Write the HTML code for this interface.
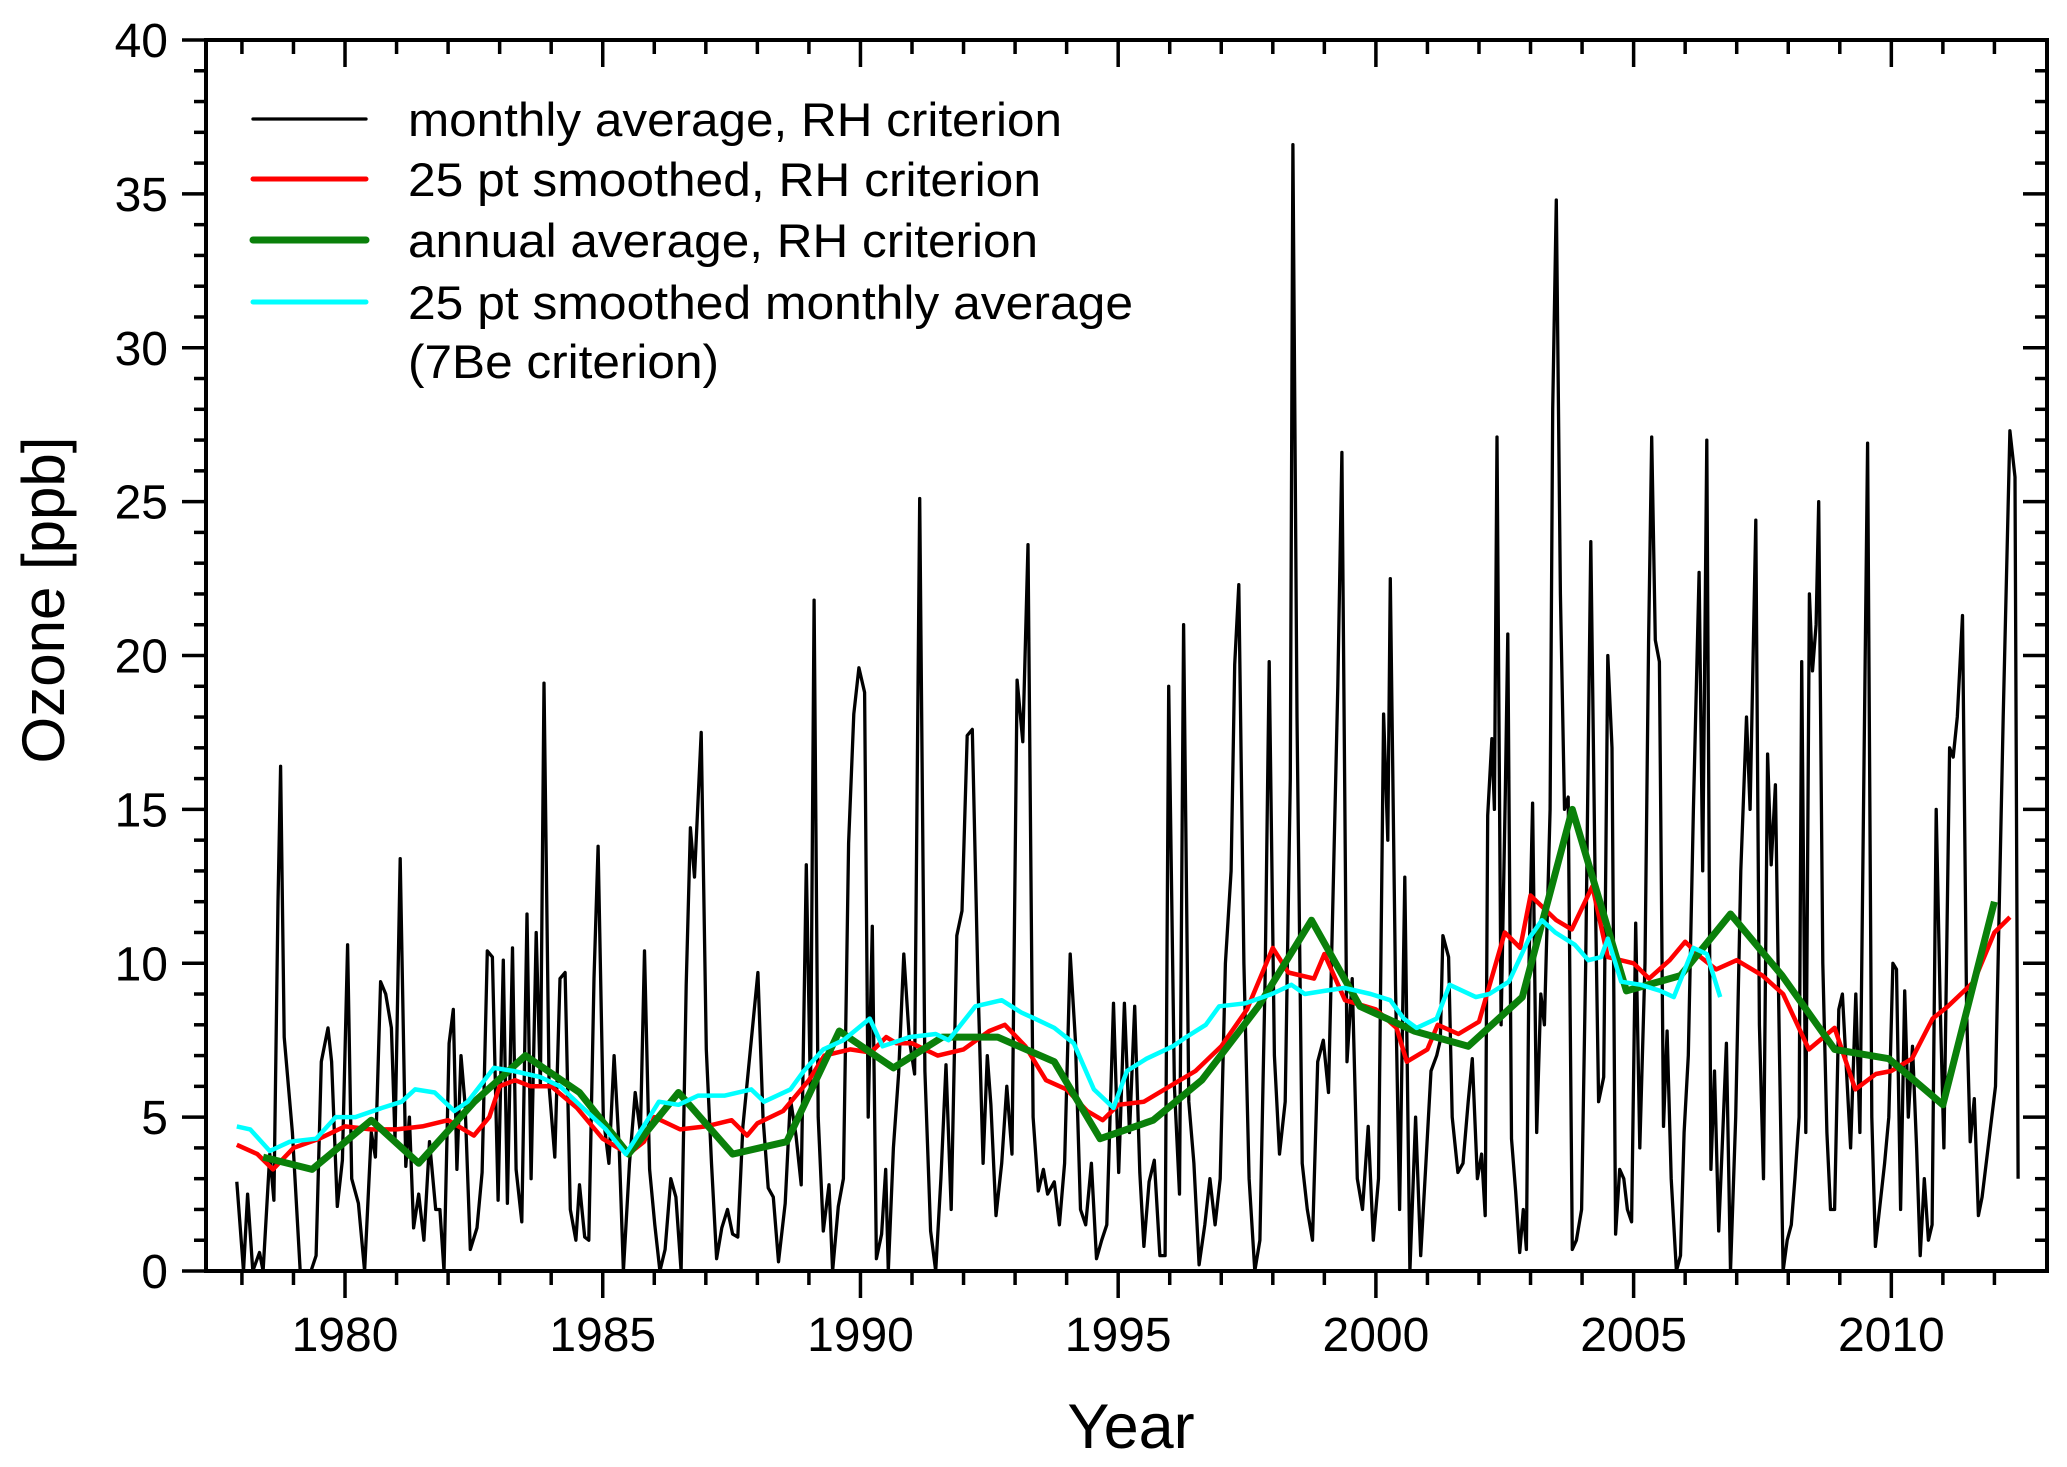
<!DOCTYPE html>
<html><head><meta charset="utf-8"><title>Ozone time series</title>
<style>html,body{margin:0;padding:0;background:#fff}svg{display:block;font-family:"Liberation Sans",Arial,sans-serif}</style>
</head><body>
<svg id="chart" xmlns="http://www.w3.org/2000/svg" width="2067" height="1467" viewBox="0 0 2067 1467">
<rect x="0" y="0" width="2067" height="1467" fill="#fff"/>
<g id="series"></g>
<g id="axes"></g>
<g id="legend"></g>
<text x="1131" y="1448" font-size="63" text-anchor="middle">Year</text>
<text transform="translate(64,600) rotate(-90)" font-size="60" text-anchor="middle">Ozone [ppb]</text>
</svg>
<script>
const xTickLabels = [1980,1985,1990,1995,2000,2005,2010];
const yTickLabels = [0,5,10,15,20,25,30,35,40];

const monthlyYears = [1977.90,1978.03,1978.11,1978.21,1978.34,1978.41,1978.54,1978.62,1978.70,1978.75,1978.82,1978.98,1979.13,1979.34,1979.44,1979.54,1979.67,1979.74,1979.85,1979.95,1980.05,1980.13,1980.26,1980.38,1980.51,1980.59,1980.69,1980.79,1980.90,1980.97,1981.07,1981.18,1981.25,1981.33,1981.43,1981.53,1981.64,1981.76,1981.84,1981.92,1982.02,1982.10,1982.17,1982.25,1982.33,1982.43,1982.56,1982.66,1982.76,1982.86,1982.97,1983.07,1983.15,1983.25,1983.32,1983.43,1983.53,1983.61,1983.71,1983.79,1983.86,1983.96,1984.07,1984.17,1984.27,1984.37,1984.48,1984.55,1984.65,1984.73,1984.83,1984.91,1985.01,1985.12,1985.22,1985.32,1985.40,1985.52,1985.63,1985.73,1985.81,1985.91,1986.01,1986.11,1986.21,1986.32,1986.42,1986.52,1986.62,1986.70,1986.78,1986.91,1987.01,1987.11,1987.21,1987.31,1987.42,1987.52,1987.62,1987.72,1987.83,1988.01,1988.11,1988.21,1988.31,1988.41,1988.54,1988.64,1988.75,1988.85,1988.95,1989.03,1989.10,1989.18,1989.28,1989.39,1989.46,1989.57,1989.67,1989.77,1989.87,1989.97,1990.08,1990.15,1990.23,1990.31,1990.41,1990.49,1990.54,1990.64,1990.74,1990.84,1990.95,1991.05,1991.15,1991.25,1991.36,1991.46,1991.56,1991.66,1991.76,1991.87,1991.97,1992.07,1992.17,1992.28,1992.38,1992.46,1992.53,1992.63,1992.74,1992.84,1992.94,1993.04,1993.15,1993.25,1993.35,1993.45,1993.55,1993.63,1993.76,1993.86,1993.96,1994.07,1994.17,1994.27,1994.37,1994.48,1994.58,1994.68,1994.78,1994.91,1995.01,1995.12,1995.22,1995.32,1995.42,1995.50,1995.60,1995.70,1995.81,1995.91,1995.98,1996.09,1996.19,1996.27,1996.37,1996.47,1996.57,1996.68,1996.78,1996.88,1996.98,1997.08,1997.19,1997.26,1997.34,1997.44,1997.54,1997.65,1997.75,1997.85,1997.93,1998.03,1998.13,1998.24,1998.34,1998.39,1998.47,1998.57,1998.67,1998.77,1998.87,1998.98,1999.08,1999.18,1999.26,1999.34,1999.44,1999.54,1999.64,1999.74,1999.85,1999.95,2000.05,2000.15,2000.23,2000.28,2000.38,2000.46,2000.56,2000.66,2000.77,2000.87,2000.97,2001.07,2001.18,2001.25,2001.30,2001.41,2001.48,2001.59,2001.69,2001.79,2001.87,2001.97,2002.05,2002.12,2002.17,2002.25,2002.30,2002.35,2002.43,2002.51,2002.56,2002.63,2002.71,2002.79,2002.86,2002.92,2002.97,2003.04,2003.12,2003.20,2003.27,2003.38,2003.43,2003.50,2003.58,2003.66,2003.73,2003.81,2003.89,2003.99,2004.07,2004.17,2004.25,2004.32,2004.42,2004.50,2004.58,2004.65,2004.73,2004.81,2004.88,2004.96,2005.04,2005.12,2005.22,2005.29,2005.35,2005.42,2005.50,2005.58,2005.65,2005.73,2005.83,2005.91,2005.98,2006.06,2006.16,2006.27,2006.34,2006.42,2006.50,2006.57,2006.65,2006.73,2006.80,2006.88,2006.98,2007.08,2007.19,2007.26,2007.37,2007.44,2007.52,2007.60,2007.67,2007.75,2007.83,2007.90,2007.98,2008.06,2008.13,2008.21,2008.26,2008.34,2008.41,2008.47,2008.54,2008.59,2008.67,2008.75,2008.82,2008.90,2008.98,2009.05,2009.13,2009.21,2009.31,2009.39,2009.46,2009.54,2009.62,2009.69,2009.77,2009.87,2009.95,2010.03,2010.10,2010.18,2010.26,2010.33,2010.41,2010.49,2010.56,2010.64,2010.72,2010.79,2010.87,2010.95,2011.02,2011.13,2011.20,2011.28,2011.38,2011.46,2011.53,2011.61,2011.69,2011.76,2012.02,2012.17,2012.30,2012.40,2012.46];
const monthlyValues = [2.9,0,2.5,0,0.6,0,3.8,2.3,12,16.4,7.6,4.5,0,0,0.5,6.8,7.9,6.8,2.1,3.6,10.6,3,2.2,0,4.5,3.7,9.4,9,7.9,4.3,13.4,3.4,5,1.4,2.5,1,4.2,2,2,0,7.4,8.5,3.3,7,5.4,0.7,1.4,3.2,10.4,10.2,2.3,10.1,2.2,10.5,3.3,1.6,11.6,3,11,6,19.1,6,3.7,9.5,9.7,2,1,2.8,1.1,1,9.5,13.8,5,3.5,7,4,0,3.5,5.8,4.5,10.4,3.3,1.5,0,0.7,3,2.4,0,9.3,14.4,12.8,17.5,7.2,3.5,0.4,1.4,2,1.2,1.1,4.7,6.6,9.7,5,2.7,2.4,0.3,2.2,5.6,4.4,2.8,13.2,5.7,21.8,5,1.3,2.8,0,2.1,3,13.9,18.1,19.6,18.8,5,11.2,0.4,1.2,3.3,0,4,6.4,10.3,7.5,6.4,25.1,6.5,1.3,0,3,6.7,2,10.9,11.7,17.4,17.6,9.3,3.5,7,5.4,1.8,3.5,6,3.8,19.2,17.2,23.6,5,2.6,3.3,2.5,2.9,1.5,3.5,10.3,7.5,2,1.5,3.5,0.4,1,1.5,8.7,3.2,8.7,4.5,8.6,3.2,0.8,2.9,3.6,0.5,0.5,19,6,2.5,21,5.5,3.5,0.2,1.5,3,1.5,3,10,13,19.7,22.3,10,3,0,1,9.5,19.8,7,3.8,5.5,16,36.6,18,3.5,2,1,6.8,7.5,5.8,13,19,26.6,6.8,9.5,3,2,4.7,1,3,18.1,14,22.5,9.3,2,12.8,0,5,0.5,3.5,6.5,7,7.5,10.9,10.2,5,3.2,3.5,5.5,6.9,3,3.8,1.8,14.8,17.3,15,27.1,8,15.5,20.7,4.3,2.6,0.6,2,0.7,10,15.2,4.5,9,8,15,28,34.8,22,15,15.4,0.7,1,2,10,23.7,13,5.5,6.3,20,17,1.2,3.3,3,2,1.6,11.3,4,10,20.5,27.1,20.5,19.8,4.7,7.8,3,0,0.5,4.5,7,15,22.7,13,27,3.3,6.5,1.3,4.5,7.4,0,5,13,18,15,24.4,8,3,16.8,13.2,15.8,7,0,1,1.5,3,5,19.8,4.5,22,19.5,21,25,10,4.5,2,2,8.5,9,6.5,4,9,4.5,15,26.9,5,0.8,2,3.5,5,10,9.8,2,9.1,5,7.3,4,0.5,3,1,1.5,15,8.5,4,17,16.7,18,21.3,8.5,4.2,5.6,1.8,2.4,6,18,27.3,25.8,3];

const smoothYears = [1977.90,1978.3,1978.6,1979.0,1979.5,1980.0,1980.5,1981.0,1981.5,1982.0,1982.5,1982.8,1983.0,1983.3,1983.6,1984.0,1984.5,1985.0,1985.5,1985.8,1986.0,1986.5,1987.0,1987.5,1987.8,1988.0,1988.5,1989.0,1989.3,1989.8,1990.2,1990.5,1990.7,1991.0,1991.5,1992.0,1992.5,1992.8,1993.2,1993.6,1994.0,1994.4,1994.7,1995.0,1995.5,1996.0,1996.5,1997.0,1997.5,1998.0,1998.3,1998.8,1999.0,1999.4,2000.0,2000.4,2000.6,2001.0,2001.2,2001.6,2002.0,2002.5,2002.8,2003.0,2003.5,2003.8,2004.2,2004.5,2005.0,2005.3,2005.7,2006.0,2006.3,2006.6,2007.0,2007.5,2007.9,2008.4,2008.9,2009.3,2009.7,2010.0,2010.4,2010.8,2011.1,2011.6,2012.0,2012.3];
const smoothValues = [4.1,3.8,3.3,4.0,4.3,4.7,4.6,4.6,4.7,4.9,4.4,5.0,6.0,6.2,6.0,6.0,5.3,4.3,3.8,4.2,5.0,4.6,4.7,4.9,4.4,4.8,5.2,6.2,7.0,7.2,7.1,7.6,7.4,7.4,7.0,7.2,7.8,8.0,7.3,6.2,5.9,5.2,4.9,5.4,5.5,6.0,6.5,7.3,8.5,10.5,9.7,9.5,10.3,8.8,8.5,7.9,6.8,7.2,8.0,7.7,8.1,11.0,10.5,12.2,11.4,11.1,12.5,10.2,10.0,9.5,10.1,10.7,10.2,9.8,10.1,9.6,9.0,7.2,7.9,5.9,6.4,6.5,6.9,8.2,8.6,9.4,11.0,11.5];

const annualYears = [1978.41,1979.36,1980.51,1981.43,1982.51,1983.50,1984.55,1985.50,1986.47,1987.52,1988.57,1989.59,1990.64,1991.59,1992.66,1993.76,1994.65,1995.68,1996.62,1997.72,1998.75,1999.69,2000.74,2001.79,2002.84,2003.81,2004.86,2005.91,2006.88,2007.88,2008.90,2009.95,2011.00,2012.00];
const annualValues = [3.7,3.3,4.9,3.5,5.5,7.0,5.8,3.8,5.8,3.8,4.2,7.8,6.6,7.6,7.6,6.8,4.3,4.9,6.2,8.6,11.4,8.6,7.8,7.3,8.9,15.0,9.1,9.6,11.6,9.6,7.2,6.9,5.4,12.0];

const beYears = [1977.90,1978.16,1978.54,1978.93,1979.44,1979.82,1980.20,1980.72,1981.10,1981.36,1981.74,1982.12,1982.38,1982.89,1983.27,1983.79,1984.17,1984.55,1985.06,1985.45,1985.83,1986.09,1986.47,1986.85,1987.37,1987.88,1988.13,1988.64,1988.90,1989.28,1989.67,1990.18,1990.43,1990.95,1991.46,1991.71,1992.23,1992.74,1993.12,1993.38,1993.76,1994.14,1994.53,1994.91,1995.17,1995.55,1996.06,1996.32,1996.70,1996.96,1997.47,1997.98,1998.36,1998.62,1999.00,1999.39,1999.90,2000.28,2000.54,2000.79,2001.18,2001.43,2001.94,2002.20,2002.58,2002.97,2003.22,2003.48,2003.86,2004.12,2004.37,2004.50,2004.76,2005.14,2005.52,2005.78,2006.16,2006.42,2006.68];
const beValues = [4.7,4.6,3.9,4.2,4.3,5.0,5.0,5.3,5.5,5.9,5.8,5.2,5.5,6.6,6.5,6.3,6.0,5.4,4.6,3.8,4.8,5.5,5.4,5.7,5.7,5.9,5.5,5.9,6.5,7.2,7.5,8.2,7.3,7.6,7.7,7.5,8.6,8.8,8.4,8.2,7.9,7.4,5.9,5.3,6.5,6.9,7.3,7.6,8.0,8.6,8.7,9.0,9.3,9.0,9.1,9.2,9.0,8.8,8.2,7.9,8.2,9.3,8.9,9.0,9.4,10.8,11.4,11.0,10.6,10.1,10.2,10.8,9.4,9.3,9.1,8.9,10.5,10.3,8.9];

const NS = 'http://www.w3.org/2000/svg';
const L = 206, R = 2047, T = 40, B = 1271;
const xMin = 1977.303, xMax = 2013.02, yMin = 0, yMax = 40;
function xs(v){ return L + (v - xMin) / (xMax - xMin) * (R - L); }
function ys(v){ return B - (v - yMin) / (yMax - yMin) * (B - T); }
function mk(tag, attrs, parent){ const e = document.createElementNS(NS, tag); for (const k in attrs) e.setAttribute(k, attrs[k]); parent.appendChild(e); return e; }

const series = document.getElementById('series');
const axes = document.getElementById('axes');
const legend = document.getElementById('legend');

const clip = mk('clipPath', {id:'plotclip'}, series);
mk('rect', {x:L, y:T, width:R-L, height:B-T}, clip);

function drawLine(xsArr, ysArr, color, w, name){
  let d = '';
  for (let i = 0; i < xsArr.length; i++) d += (i ? 'L' : 'M') + xs(xsArr[i]).toFixed(1) + ' ' + ys(ysArr[i]).toFixed(1);
  const p = mk('path', {d:d, fill:'none', stroke:color, 'stroke-width':w, 'stroke-linejoin':'round', 'clip-path':'url(#plotclip)'}, series);
  
  
}
drawLine(monthlyYears, monthlyValues, '#000', 3.3, 'monthly-average-line');
drawLine(smoothYears, smoothValues, '#ff0000', 4.5, 'smoothed-rh-line');
drawLine(annualYears, annualValues, '#0a800a', 7, 'annual-average-line');
drawLine(beYears, beValues, '#00ffff', 4.5, 'smoothed-7be-line');

const frame = mk('rect', {x:L, y:T, width:R-L, height:B-T, fill:'none', stroke:'#000', 'stroke-width':4}, axes);



for (let yr = 1978; yr <= 2012; yr++){
  const major = yr % 5 === 0;
  const x = xs(yr);
  const len = major ? 27 : 14;
  const t1 = mk('line', {x1:x, y1:B, x2:x, y2:B+len, stroke:'#000', 'stroke-width':3.5}, axes);
  
  
  const t2 = mk('line', {x1:x, y1:T, x2:x, y2:T+len, stroke:'#000', 'stroke-width':3.5}, axes);
  
  
}
xTickLabels.forEach(v => {
  const t = mk('text', {x:xs(v), y:1351, 'font-size':48, 'text-anchor':'middle'}, axes);
  t.textContent = v;
  
  
});
for (let v = 0; v <= 40; v++){
  const major = v % 5 === 0;
  const y = ys(v);
  const len = major ? 24 : 12;
  const t1 = mk('line', {x1:L-len, y1:y, x2:L, y2:y, stroke:'#000', 'stroke-width':3.5}, axes);
  
  
  const t2 = mk('line', {x1:R-len, y1:y, x2:R, y2:y, stroke:'#000', 'stroke-width':3.5}, axes);
  
  
}
yTickLabels.forEach(v => {
  const t = mk('text', {x:168, y:ys(v)+17, 'font-size':48, 'text-anchor':'end'}, axes);
  t.textContent = v;
  
  
});

const legendLabels = ['monthly average, RH criterion','25 pt smoothed, RH criterion','annual average, RH criterion','25 pt smoothed monthly average','(7Be criterion)'];
const legendColors = ['#000','#ff0000','#0a800a','#00ffff',null];
const legendWidths = [3.3,5,7,5,0];
const legendTextLen = [654,633,630,725,311];
const legendRowY = [119,179,240,302,361];
legendLabels.forEach((lab, i) => {
  const y = legendRowY[i];
  if (legendColors[i]){
    const ln = mk('line', {x1:253, y1:y, x2:366, y2:y, stroke:legendColors[i], 'stroke-width':legendWidths[i], 'stroke-linecap':'round'}, legend);
    
    
  }
  const t = mk('text', {x:408, y:y+17, 'font-size':47, textLength:legendTextLen[i], lengthAdjust:'spacingAndGlyphs'}, legend);
  t.textContent = lab;
  
  
});
</script>
</body></html>
